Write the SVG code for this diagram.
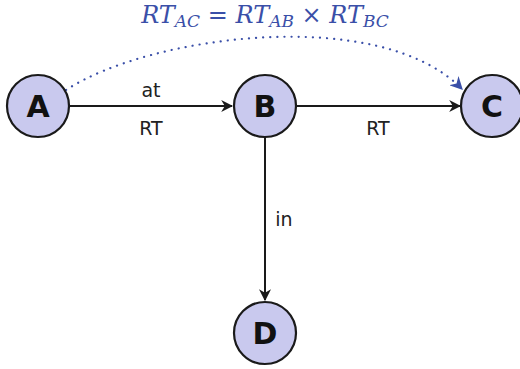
<svg xmlns="http://www.w3.org/2000/svg" width="520" height="369" viewBox="0 0 520 369">
<defs>
<style>
.node circle{fill:#c9c9ee;stroke:#1a1a1a;stroke-width:2.2}
.node text{font-family:"DejaVu Sans",sans-serif;font-weight:bold;font-size:30px;fill:#111;text-anchor:middle}
.edge{stroke:#1a1a1a;stroke-width:2;fill:none}
.lbl{font-family:"DejaVu Sans",sans-serif;font-size:19px;fill:#222;text-anchor:middle}
.dot{stroke:#3a4fa8;stroke-width:2.2;fill:none;stroke-dasharray:0.1 7;stroke-linecap:round}
.math{font-family:"DejaVu Serif","Liberation Serif",serif;font-style:italic;fill:#3a4fa8}
</style>
<marker id="ah" viewBox="0 0 10 10" refX="9" refY="5" markerWidth="12" markerHeight="12" orient="auto" markerUnits="userSpaceOnUse">
<path d="M0,0 L10,5 L0,10 L3,5 Z" fill="#1a1a1a"/>
</marker>
<marker id="ahb" viewBox="0 0 10 10" refX="9" refY="5" markerWidth="13" markerHeight="13" orient="auto" markerUnits="userSpaceOnUse">
<path d="M0,0 L10,5 L0,10 L3,5 Z" fill="#3a4fa8"/>
</marker>
</defs>
<g id="connectors">
<path class="edge" d="M69,106 L232,106" marker-end="url(#ah)"/>
<path class="edge" d="M296,106 L460,106" marker-end="url(#ah)"/>
<path class="edge" d="M265,137 L265,300" marker-end="url(#ah)"/>
<path class="dot" d="M66,90 C150,35 380,5 462,89" marker-end="url(#ahb)"/>
<text class="lbl" x="151" y="97">at</text>
<text class="lbl" x="151" y="135">RT</text>
<text class="lbl" x="378" y="135">RT</text>
<text class="lbl" x="284" y="226">in</text>
</g>
<text class="math" x="265" y="23" text-anchor="middle" font-size="24">RT<tspan font-size="17" dy="4">AC</tspan><tspan dy="-4" font-style="normal"> = </tspan>RT<tspan font-size="17" dy="4">AB</tspan><tspan dy="-4" font-style="normal"> × </tspan>RT<tspan font-size="17" dy="4">BC</tspan></text>
<g id="A" class="node"><circle cx="38" cy="106" r="31"/><text x="38" y="117">A</text></g>
<g id="B" class="node"><circle cx="265" cy="106" r="31"/><text x="265" y="117">B</text></g>
<g id="C" class="node"><circle cx="492" cy="106" r="31"/><text x="492" y="117">C</text></g>
<g id="D" class="node"><circle cx="265" cy="333" r="31"/><text x="265" y="344">D</text></g>
</svg>
